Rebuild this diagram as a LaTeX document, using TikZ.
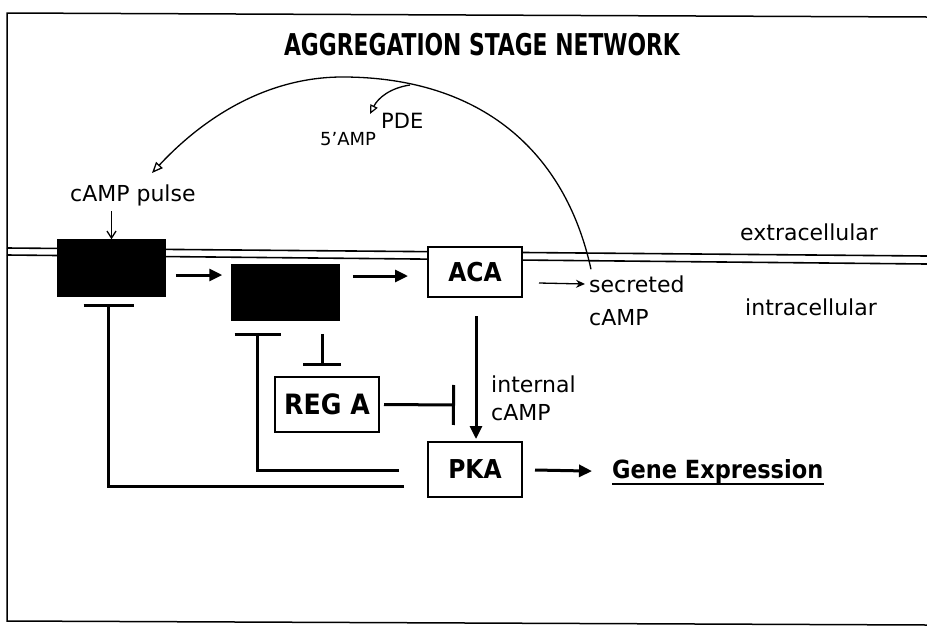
\documentclass[tikz,border=0pt]{standalone}
\usepackage{fontspec}
\usepackage{graphicx}
\setmainfont{DejaVu Sans}
\newfontfamily\condfont{DejaVu Sans Condensed}
\usetikzlibrary{arrows.meta,calc}
\tikzset{
  lbl/.style={font=\fontsize{22}{26}\selectfont, inner sep=0pt, anchor=west},
  smalllbl/.style={font=\fontsize{18}{21}\selectfont, inner sep=0pt, anchor=west},
  blackbox/.style={draw, fill=black, line width=1.5pt, minimum width=107pt, minimum height=56pt, inner sep=0pt},
  protein/.style={draw, line width=2pt, fill=white, inner sep=0pt, font=\condfont\bfseries\fontsize{26}{28}\selectfont},
  act/.style={line width=3pt, -{Triangle[length=13pt,width=12pt]}},
  inh/.style={line width=3pt, -{Bar[width=50pt,line width=3pt]}},
  thinarrow/.style={line width=1.3pt, -{Stealth[length=9pt,width=8pt,inset=3pt]}},
  openarrow/.style={line width=1.3pt, -{Triangle[open,length=11pt,width=9pt,line width=1.3pt]}},
  membrane/.style={line width=1.6pt},
}
\begin{document}
\begin{tikzpicture}[x=1pt,y=-1pt]
\useasboundingbox (0,0) rectangle (927,633);
% frame
\draw[line width=1.5pt] (927,17) -- (7,13) -- (7,621) -- (927,625);
% title
\node[inner sep=0pt] (title) at (482,45) {\scalebox{0.81}[1]{\condfont\bfseries\fontsize{30}{32}\selectfont AGGREGATION STAGE NETWORK}};
% membrane
\draw[membrane] (7,248) -- (927,256);
\draw[membrane] (7,255) -- (927,264);
% boxes
\node[blackbox] (box1) at (111.5,268) {};
\node[blackbox, minimum height=55pt] (box2) at (285.5,292.5) {};
\node[protein, minimum width=94pt, minimum height=50pt] (aca) at (475,272) {ACA};
\node[protein, minimum width=94pt, minimum height=55pt] (pka) at (475,469.5) {PKA};
\node[protein, minimum width=104pt, minimum height=55pt, font=\condfont\bfseries\fontsize{28}{30}\selectfont] (rega) at (327,404.5) {REG A};
% labels
\node[lbl] (pulse) at (70,195) {cAMP pulse};
\node[lbl] (extra) at (740,232) {extracellular};
\node[lbl] (intra) at (745,307) {intracellular};
\node[lbl] (secr1) at (589,284) {secreted};
\node[lbl] (secr2) at (589,318) {cAMP};
\node[lbl] (int1) at (491,384) {internal};
\node[lbl] (int2) at (491,413) {cAMP};
\node[lbl, font=\fontsize{21}{24}\selectfont] (pde) at (381,121) {PDE};
\node[smalllbl] (amp) at (320,139) {5'AMP};
\node[inner sep=0pt, anchor=base west, font=\condfont\bfseries\fontsize{25}{28}\selectfont] (gene) at (612,478) {Gene Expression};
\draw[line width=2pt] ($(gene.base west)+(0,6)$) -- ($(gene.base east)+(0,6)$);
% cAMP pulse arrow
\draw[line width=1.3pt, -{Straight Barb[length=7pt,width=9pt]}] ($(box1.north)+(0,-28)$) -- (box1.north);
% activation arrows
\draw[act] ($(box1.east)+(10,7)$) -- ($(box2.west)+(-9,-17.5)$);
\draw[act] ($(box2.east)+(13,-16.5)$) -- ($(aca.west)+(-19,4)$);
\draw[act] ($(aca.south)+(1,18)$) -- ($(pka.north)+(1,-2)$);
\draw[act] ($(pka.east)+(12,0.5)$) -- ($(gene.west)+(-20,0)$);
% secreted
\draw[thinarrow] ($(aca.east)+(16,11)$) -- ($(secr1.west)+(-4,0)$);
% inhibitions
\draw[inh, -{Bar[width=38pt,line width=3pt]}] ($(box2.south -| rega.north)+(-5,13)$) -- ($(rega.north)+(-5,-10)$);
\draw[inh, -{Bar[width=40pt,line width=3pt]}] (rega.east) ++(4,0) -- (455,405);
\draw[inh, -{Bar[width=46pt,line width=3pt]}] ($(pka.west)+(-28,0.5)$) -| ($(box2.south)+(-28,12)$);
\draw[inh, -{Bar[width=50pt,line width=3pt]}] ($(pka.west)+(-23,16.5)$) -| ($(box1.south)+(-3,7)$);
% extracellular feedback arc
\coordinate (arcstart) at ($(secr1.north west)+(2,-6)$);
\draw[openarrow] (arcstart) .. controls (565,150) and (480,78) .. (345,77) .. controls (255,76) and (190,132) .. (152,173);
\draw[line width=1.3pt, -{Triangle[open,length=9pt,width=8pt,line width=1.2pt]}] (410,85) .. controls (390,88) and (378,98) .. (370,114);
\end{tikzpicture}
\end{document}
